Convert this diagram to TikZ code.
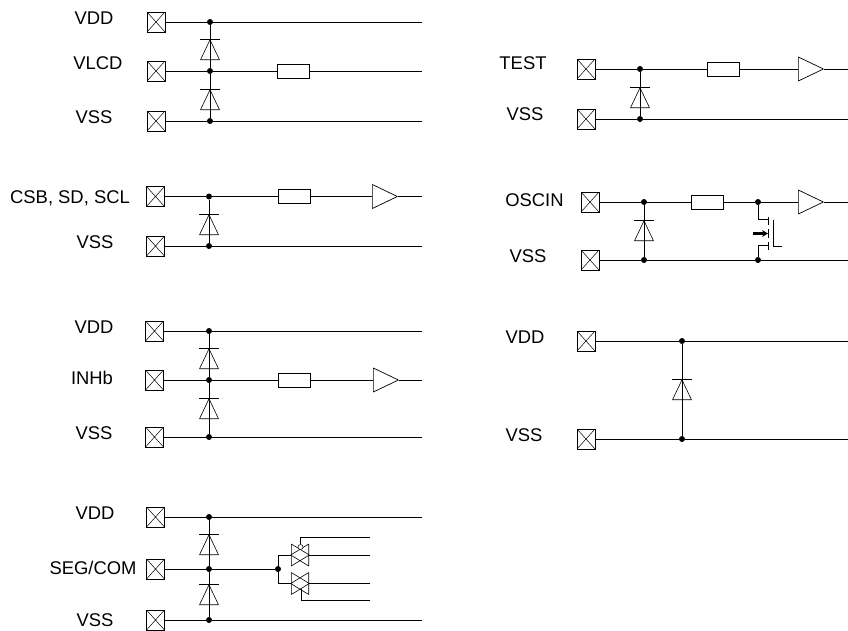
\documentclass[tikz,border=0pt]{standalone}
\usepackage{fontspec}
\setmainfont{Liberation Sans}
\usetikzlibrary{shapes.geometric,arrows.meta}

\tikzset{
	wire/.style={line width=0.8pt},
	pad/.style={draw,line width=0.7pt,rectangle,minimum width=18pt,minimum height=20pt,inner sep=0pt,
		path picture={\draw[line width=0.5pt] (path picture bounding box.south west) -- (path picture bounding box.north east)
			(path picture bounding box.north west) -- (path picture bounding box.south east);}},
	dot/.style={circle,fill=black,inner sep=0pt,minimum size=6pt},
	res/.style={draw,line width=0.8pt,rectangle,minimum width=32pt,minimum height=14pt,inner sep=0pt},
	tri/.style={draw,isosceles triangle,isosceles triangle stretches,inner sep=0pt,line join=bevel},
	diode/.style={tri,line width=0.6pt,shape border rotate=90,minimum width=19pt,minimum height=20pt,anchor=apex},
	buf/.style={tri,line width=0.7pt,minimum width=24pt,minimum height=25pt,anchor=lower side},
	tgl/.style={tri,line width=0.6pt,minimum width=22pt,minimum height=18pt,anchor=lower side},
	tgr/.style={tgl,shape border rotate=180},
	bubble/.style={draw,circle,fill=white,line width=0.5pt,inner sep=0pt,minimum size=5pt},
	txt/.style={font=\fontsize{18.4}{20}\selectfont,inner sep=0pt}
}
%diode with its bar: name, x, y of bar
\newcommand{\diodesym}[3]{
	\node[diode] (#1) at (#2,#3) {};
	\draw[line width=0.6pt] ([xshift=-10pt]#1.apex) -- ([xshift=10pt]#1.apex);
}

\begin{document}
\begin{tikzpicture}[x=1pt,y=-1pt,wire]
	\useasboundingbox (0,0) rectangle (848,630);

	%VLCD
	\node[txt] (l1a) at (94,18) {VDD};
	\node[txt] (l1b) at (98,63) {VLCD};
	\node[txt] (l1c) at (94,117) {VSS};
	\node[pad] (p1a) at (156,22) {};
	\node[pad] (p1b) at (156,71) {};
	\node[pad] (p1c) at (156,121) {};
	\node[dot] (j1a) at (210,22) {};
	\node[dot] (j1b) at (210,71) {};
	\node[dot] (j1c) at (210,121) {};
	\node[res] (r1) at (293,71) {};
	\coordinate (e1a) at (422,22);
	\coordinate (e1b) at (422,71);
	\coordinate (e1c) at (422,121);
	\draw (p1a) -- (j1a) -- (e1a);
	\draw (p1b) -- (j1b) -- (r1) -- (e1b);
	\draw (p1c) -- (j1c) -- (e1c);
	\draw (j1a) -- (j1b) -- (j1c);
	\diodesym{d1a}{210}{39}
	\diodesym{d1b}{210}{89}

	%CSB
	\node[txt] (l2a) at (70,198) {CSB, SD, SCL};
	\node[txt] (l2b) at (95,242) {VSS};
	\node[pad] (p2a) at (155.5,196.5) {};
	\node[pad] (p2b) at (155.5,246) {};
	\node[dot] (j2a) at (209,196.5) {};
	\node[dot] (j2b) at (209,246) {};
	\node[res] (r2) at (294,196.5) {};
	\node[buf] (b2) at (372,196.5) {};
	\coordinate (e2a) at (422,196.5);
	\coordinate (e2b) at (422,246);
	\draw (p2a) -- (j2a) -- (r2) -- (b2.lower side);
	\draw (b2.apex) -- (e2a);
	\draw (p2b) -- (j2b) -- (e2b);
	\draw (j2a) -- (j2b);
	\diodesym{d2}{209}{214}

	%INHb
	\node[txt] (l3a) at (94,327) {VDD};
	\node[txt] (l3b) at (92,378) {INHb};
	\node[txt] (l3c) at (94,433) {VSS};
	\node[pad] (p3a) at (154.5,331) {};
	\node[pad] (p3b) at (154.5,380) {};
	\node[pad] (p3c) at (154.5,437) {};
	\node[dot] (j3a) at (209,331) {};
	\node[dot] (j3b) at (209,380) {};
	\node[dot] (j3c) at (209,437) {};
	\node[res] (r3) at (294,380) {};
	\node[buf] (b3) at (373,380) {};
	\coordinate (e3a) at (422,331);
	\coordinate (e3b) at (422,380);
	\coordinate (e3c) at (422,437);
	\draw (p3a) -- (j3a) -- (e3a);
	\draw (p3b) -- (j3b) -- (r3) -- (b3.lower side);
	\draw (b3.apex) -- (e3b);
	\draw (p3c) -- (j3c) -- (e3c);
	\draw (j3a) -- (j3b) -- (j3c);
	\diodesym{d3a}{209}{348}
	\diodesym{d3b}{209}{398}

	%SEG/COM
	\node[txt] (l4a) at (95,513) {VDD};
	\node[txt] (l4b) at (93,568) {SEG/COM};
	\node[txt] (l4c) at (95,620) {VSS};
	\node[pad] (p4a) at (155.5,517) {};
	\node[pad] (p4b) at (155.5,569) {};
	\node[pad] (p4c) at (155.5,620) {};
	\node[dot] (j4a) at (209,517) {};
	\node[dot] (j4b) at (209,569) {};
	\node[dot] (j4c) at (209,620) {};
	\node[dot] (j4d) at (278,569) {};
	\coordinate (e4a) at (422,517);
	\coordinate (e4c) at (422,620);
	\draw (p4a) -- (j4a) -- (e4a);
	\draw (p4b) -- (j4b) -- (j4d);
	\draw (p4c) -- (j4c) -- (e4c);
	\draw (j4a) -- (j4b) -- (j4c);
	\diodesym{d4a}{209}{534}
	\diodesym{d4b}{209}{584}
	\node[tgl] (t1a) at (291,555) {};
	\node[tgr] (t1b) at (309,555) {};
	\node[tgl] (t2a) at (291,583.5) {};
	\node[tgr] (t2b) at (309,583.5) {};
	\node[bubble] (g1) at (300.5,547) {};
	\coordinate (g2) at (301.5,589);
	\coordinate (e5a) at (370,537);
	\coordinate (e5b) at (370,555);
	\coordinate (e5c) at (370,583.5);
	\coordinate (e5d) at (370,600);
	\draw (j4d) |- (t1a.lower side);
	\draw (j4d) |- (t2a.lower side);
	\draw (t1b.lower side) -- (e5b);
	\draw (t2b.lower side) -- (e5c);
	\draw (g1) |- (e5a);
	\draw (g2) |- (e5d);

	%TEST
	\node[txt] (l5a) at (523,63) {TEST};
	\node[txt] (l5b) at (525,114) {VSS};
	\node[pad] (p5a) at (586,69) {};
	\node[pad] (p5b) at (586,119) {};
	\node[dot] (j5a) at (640,69) {};
	\node[dot] (j5b) at (640,119) {};
	\node[res] (r5) at (723,69) {};
	\node[buf] (b5) at (798,69) {};
	\coordinate (e6a) at (848,69);
	\coordinate (e6b) at (848,119);
	\draw (p5a) -- (j5a) -- (r5) -- (b5.lower side);
	\draw (b5.apex) -- (e6a);
	\draw (p5b) -- (j5b) -- (e6b);
	\draw (j5a) -- (j5b);
	\diodesym{d5}{640}{87}

	%OSCIN
	\node[txt] (l6a) at (534.5,200) {OSCIN};
	\node[txt] (l6b) at (528,256) {VSS};
	\node[pad] (p6a) at (590,202) {};
	\node[pad] (p6b) at (590,260) {};
	\node[dot] (j6a) at (644,202) {};
	\node[dot] (j6b) at (644,260) {};
	\node[res] (r6) at (707,202) {};
	\node[dot] (j6c) at (758,202) {};
	\node[dot] (j6d) at (758,260) {};
	\node[buf] (b6) at (798,202) {};
	\coordinate (e7a) at (848,202);
	\coordinate (e7b) at (848,260);
	\coordinate (m1) at (768,219);
	\coordinate (m2) at (768,245);
	\draw (p6a) -- (j6a) -- (r6) -- (j6c) -- (b6.lower side);
	\draw (b6.apex) -- (e7a);
	\draw (p6b) -- (j6b) -- (j6d) -- (e7b);
	\draw (j6a) -- (j6b);
	\diodesym{d6}{644}{220}
	\draw (j6c) |- (m1);
	\draw (j6d) |- (m2);
	\draw (768,217) -- (768,225);
	\draw (768,229) -- (768,238);
	\draw (768,242) -- (768,250);
	\draw (773,220) -- (773,246) -- (782,246);
	\draw[-{Stealth[length=6pt,width=7pt]},line width=2.2pt] (753,233.5) -- (768,233.5);

	%VDD VSS
	\node[txt] (l7a) at (525,337) {VDD};
	\node[txt] (l7b) at (524,435) {VSS};
	\node[pad] (p7a) at (586,341) {};
	\node[pad] (p7b) at (586,439) {};
	\node[dot] (j7a) at (682,341) {};
	\node[dot] (j7b) at (682,439) {};
	\coordinate (e8a) at (848,341);
	\coordinate (e8b) at (848,439);
	\draw (p7a) -- (j7a) -- (e8a);
	\draw (p7b) -- (j7b) -- (e8b);
	\draw (j7a) -- (j7b);
	\diodesym{d7}{682}{379}
\end{tikzpicture}
\end{document}
